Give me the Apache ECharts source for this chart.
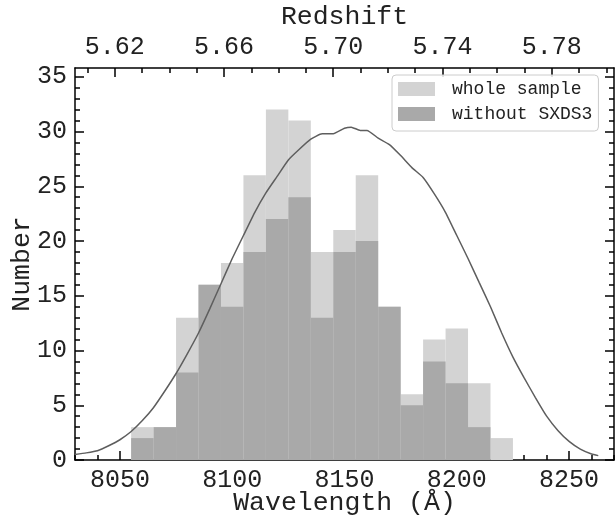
<!DOCTYPE html>
<html>
<head>
<meta charset="utf-8">
<script src="https://cdn.jsdelivr.net/npm/echarts@6/dist/echarts.min.js"></script>
<style>
html,body{margin:0;padding:0;background:#fff;}
#chart{width:616px;height:516px;}
</style>
</head>
<body>
<div id="chart"></div>
<script>
// ---- data ----
const binLeft = [8055, 8065, 8075, 8085, 8095, 8105, 8115, 8125, 8135, 8145, 8155, 8165, 8175, 8185, 8195, 8205, 8215];
const binWidth = 10;
const wholeSample = [3, 3, 13, 16, 18, 26, 32, 31, 19, 21, 26, 14, 6, 11, 12, 7, 2];
const withoutSXDS3 = [2, 3, 8, 16, 14, 19, 22, 24, 13, 19, 20, 14, 5, 9, 7, 3, 0];
const curveWave = [8030, 8035, 8040, 8045, 8050, 8055, 8060, 8065, 8070, 8075, 8080, 8085, 8090, 8095, 8100, 8105, 8110, 8115, 8120, 8125, 8130, 8135, 8140, 8145, 8150, 8153, 8157, 8160, 8165, 8170, 8175, 8180, 8185, 8190, 8195, 8200, 8205, 8210, 8215, 8220, 8225, 8230, 8235, 8240, 8245, 8250, 8255, 8260, 8263];
const curveVal = [0.5, 0.65, 0.85, 1.3, 1.85, 2.6, 3.6, 4.8, 6.3, 7.9, 9.7, 11.6, 13.8, 16.1, 18.4, 20.5, 22.6, 24.4, 25.9, 27.4, 28.4, 29.3, 29.8, 29.8, 30.3, 30.4, 30.1, 30.1, 29.4, 28.8, 27.8, 26.7, 25.8, 24.3, 22.6, 20.5, 18.4, 16.2, 14.0, 11.6, 9.4, 7.5, 5.7, 4.0, 2.7, 1.7, 1.0, 0.55, 0.4];
const wlTicks = [8050, 8100, 8150, 8200, 8250];
const zTicks = [5.62, 5.66, 5.70, 5.74, 5.78];
const yTicks = [0, 5, 10, 15, 20, 25, 30, 35];
const seriesNames = ['whole sample', 'without SXDS3'];

// ---- settings ----
const LYA = 1215.67;
const wlMin = 8030, wlMax = 8270;
const yMax = 35.8;
const FONT = 'Liberation Mono';
const lightC = '#d3d3d3', darkC = '#a9a9a9';

function range(a, b, s, excl) {
  const out = [];
  for (let v = a; v <= b + 1e-9; v += s) {
    const r = Math.round(v * 1000) / 1000;
    if (!excl.some(e => Math.abs(e - r) < 1e-6)) out.push(r);
  }
  return out;
}
const wlMinor = range(wlMin, wlMax, 10, wlTicks);
const zMinor = range(5.61, 5.80, 0.01, zTicks);
const yMinor = range(0, 35, 1, yTicks);

const lineStyle = {color: '#000', width: 1.5};
const labelStyle = {fontFamily: FONT, fontSize: 25, color: '#222'};
const nameStyle = {fontFamily: FONT, fontSize: 26.5, color: '#222'};

function xAx(pos, min, max, major, minor, withLabels, name, nameGap) {
  return [{
    type: 'value', position: pos, min: min, max: max,
    axisLine: {show: true, onZero: false, lineStyle: lineStyle},
    axisTick: {show: true, inside: true, length: 9, customValues: major, lineStyle: lineStyle},
    axisLabel: withLabels ? Object.assign({show: true, customValues: major, margin: 8,
      formatter: v => pos === 'top' ? v.toFixed(2) : String(v)}, labelStyle) : {show: false},
    splitLine: {show: false},
    name: name, nameLocation: 'middle', nameGap: nameGap, nameMoveOverlap: false, nameTextStyle: nameStyle
  }, {
    type: 'value', position: pos, min: min, max: max,
    axisLine: {show: false, onZero: false},
    axisTick: {show: true, inside: true, length: 5, customValues: minor, lineStyle: lineStyle},
    axisLabel: {show: false},
    splitLine: {show: false}
  }];
}
function yAx(pos, withLabels) {
  return [{
    type: 'value', position: pos, min: 0, max: yMax,
    axisLine: {show: true, onZero: false, lineStyle: lineStyle},
    axisTick: {show: true, inside: true, length: 9, customValues: yTicks, lineStyle: lineStyle},
    axisLabel: withLabels ? Object.assign({show: true, customValues: yTicks, margin: 8}, labelStyle) : {show: false},
    splitLine: {show: false},
    name: withLabels ? 'Number' : '', nameLocation: 'middle', nameGap: 40, nameMoveOverlap: false, nameTextStyle: nameStyle
  }, {
    type: 'value', position: pos, min: 0, max: yMax,
    axisLine: {show: false, onZero: false},
    axisTick: {show: true, inside: true, length: 5, customValues: yMinor, lineStyle: lineStyle},
    axisLabel: {show: false},
    splitLine: {show: false}
  }];
}

const xAxes = [].concat(
  xAx('bottom', wlMin, wlMax, wlTicks, wlMinor, true, 'Wavelength (Å)', 29),
  xAx('top', wlMin / LYA - 1, wlMax / LYA - 1, zTicks, zMinor, true, 'Redshift', 38)
);
const yAxes = [].concat(yAx('left', true), yAx('right', false));

function barSeries(name, vals, color) {
  return {
    name: name, type: 'custom', xAxisIndex: 0, yAxisIndex: 0,
    itemStyle: {color: color},
    encode: {x: 0, y: 1},
    data: binLeft.map((b, i) => [b, vals[i]]),
    renderItem: function (params, api) {
      const x0 = api.value(0), v = api.value(1);
      const p0 = api.coord([x0, 0]);
      const p1 = api.coord([x0 + binWidth, v]);
      return {type: 'rect', shape: {x: p0[0], y: p1[1], width: p1[0] - p0[0], height: p0[1] - p1[1]},
        style: {fill: color}};
    },
    z: 2
  };
}

const chart = echarts.init(document.getElementById('chart'), null, {renderer: 'canvas'});
chart.setOption({
  animation: false,
  backgroundColor: '#fff',
  grid: {left: 75, right: 2, top: 68, bottom: 56, containLabel: false, outerBoundsMode: 'none'},
  xAxis: xAxes,
  yAxis: yAxes,
  legend: {
    data: [{name: seriesNames[0], icon: 'rect'}, {name: seriesNames[1], icon: 'rect'}],
    orient: 'vertical', left: 392, top: 75,
    itemWidth: 37, itemHeight: 14, itemGap: 7,
    padding: [5, 6, 8, 6],
    backgroundColor: 'rgba(255,255,255,0.85)', borderColor: '#cccccc', borderWidth: 1, borderRadius: 4,
    textStyle: {fontFamily: FONT, fontSize: 18, color: '#222', padding: [0, 0, 0, 12]},
    z: 10
  },
  series: [
    barSeries(seriesNames[0], wholeSample, lightC),
    barSeries(seriesNames[1], withoutSXDS3, darkC),
    {
      name: 'filter', type: 'line', xAxisIndex: 0, yAxisIndex: 0,
      data: curveWave.map((w, i) => [w, curveVal[i]]),
      showSymbol: false, symbol: 'none', smooth: 0.15,
      lineStyle: {color: '#5e5e5e', width: 1.5}, z: 3
    }
  ]
});
</script>
</body>
</html>
